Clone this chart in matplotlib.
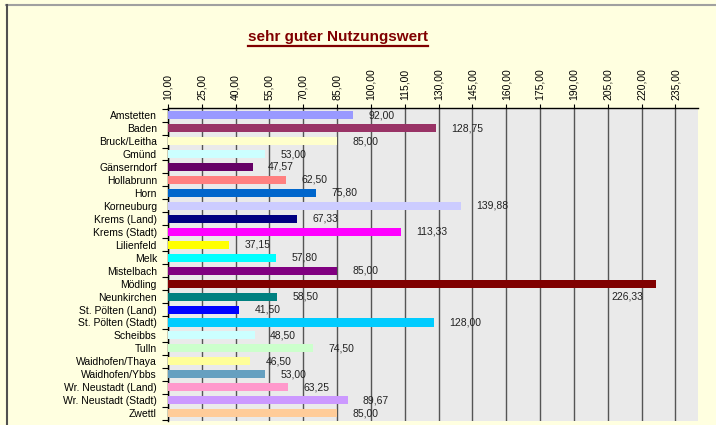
import numpy as np
import matplotlib.pyplot as plt
from matplotlib.lines import Line2D

plt.rcParams['font.family'] = ['Liberation Sans', 'DejaVu Sans']

districts = ['Amstetten', 'Baden', 'Bruck/Leitha', 'Gmünd', 'Gänserndorf',
             'Hollabrunn', 'Horn', 'Korneuburg', 'Krems (Land)', 'Krems (Stadt)',
             'Lilienfeld', 'Melk', 'Mistelbach', 'Mödling', 'Neunkirchen',
             'St. Pölten (Land)', 'St. Pölten (Stadt)', 'Scheibbs', 'Tulln',
             'Waidhofen/Thaya', 'Waidhofen/Ybbs', 'Wr. Neustadt (Land)',
             'Wr. Neustadt (Stadt)', 'Zwettl']
values = [92.00, 128.75, 85.00, 53.00, 47.57, 62.50, 75.80, 139.88, 67.33,
          113.33, 37.15, 57.80, 85.00, 226.33, 58.50, 41.50, 128.00, 48.50,
          74.50, 46.50, 53.00, 63.25, 89.67, 85.00]
colors = ['#9999FF', '#993366', '#FFFFCC', '#CCFFFF', '#660066', '#FF8080',
          '#0066CC', '#CCCCFF', '#000080', '#FF00FF', '#FFFF00', '#00FFFF',
          '#800080', '#800000', '#008080', '#0000FF', '#00CCFF', '#CCFFFF',
          '#CCFFCC', '#FFFF99', '#66A0C0', '#FF99CC', '#CC99FF', '#FFCC99']
ticks = np.arange(10, 236, 15)
x_min, x_max = 10, 245

W, H = 716, 425
fig = plt.figure(figsize=(W/100, H/100), dpi=100)
fig.patch.set_facecolor('#FFFFE0')

ax = fig.add_axes([168/W, 1 - 421/H, (698-168)/W, (421-108)/H])
ax.set_facecolor('#EAEAEA')

y = np.arange(len(districts))
ax.barh(y, np.array(values) - x_min, left=x_min, height=0.62,
        color=colors, zorder=3)

ax.set_xlim(x_min, x_max)
ax.set_ylim(len(districts) - 0.4, -0.55)

# gridlines
ax.set_xticks(ticks)
ax.set_xticklabels([f'{t:.2f}'.replace('.', ',') for t in ticks],
                   rotation=90, fontsize=7.5)
ax.xaxis.tick_top()
ax.tick_params(axis='x', length=3, width=0.8, pad=3, colors='black')
for t in ticks:
    ax.axvline(t, color='#555555', lw=1.0, zorder=1)

ax.set_yticks(y)
ax.set_yticklabels(districts, fontsize=7.5)
ax.set_yticks(np.arange(len(districts) + 1) - 0.5, minor=True)
ax.tick_params(axis='y', which='major', length=0, pad=8)
ax.tick_params(axis='y', which='minor', length=4, width=0.8)

for s in ['right', 'bottom']:
    ax.spines[s].set_visible(False)
for s in ['left', 'top']:
    ax.spines[s].set_linewidth(1.0)

# value labels
for i, v in enumerate(values):
    lab = f'{v:.2f}'.replace('.', ',')
    if districts[i] == 'Mödling':
        ax.annotate(lab, (v, i + 1.0), xytext=(-9, 0), textcoords='offset points',
                    ha='right', va='center', fontsize=7.5, color='#222222', zorder=4)
    else:
        ax.annotate(lab, (v, i), xytext=(11, 0), textcoords='offset points',
                    ha='left', va='center', fontsize=7.5, color='#222222', zorder=4)

# title with underline
title = fig.text(337.5/W, 1 - 37/H, 'sehr guter Nutzungswert', ha='center',
                 va='center', fontsize=11, fontweight='bold', color='#800000')
r = fig.canvas.get_renderer()
bb = title.get_window_extent(renderer=r)
uy = bb.y0 - 1.5
fig.add_artist(Line2D([bb.x0/W, bb.x1/W], [uy/H, uy/H], color='#800000', lw=1.6,
                      transform=fig.transFigure))

# chart area border
fig.add_artist(Line2D([6/W, 1], [1 - 4.5/H, 1 - 4.5/H], color='#A0A0A0', lw=1.5,
                      transform=fig.transFigure))
fig.add_artist(Line2D([6.5/W, 6.5/W], [0, 1 - 4.5/H], color='#505050', lw=1.5,
                      transform=fig.transFigure))

fig.savefig('out.png', dpi=100, facecolor=fig.get_facecolor())
